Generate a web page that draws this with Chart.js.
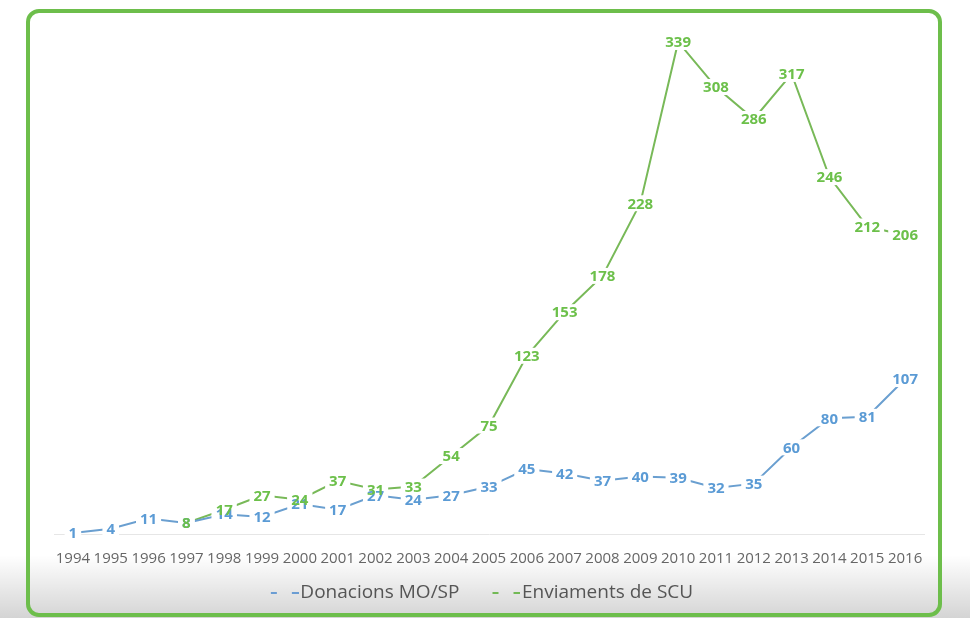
<!DOCTYPE html>
<html>
  <head>
    <meta charset="UTF-8" />
    <title>Donacions i enviaments</title>
    <script src="https://cdn.jsdelivr.net/npm/chart.js@4/dist/chart.umd.min.js"></script>
    <style>
      html, body { margin:0; padding:0; width:970px; height:618px; overflow:hidden; background:#fff; }
      #shade { position:absolute; left:0; top:555px; width:970px; height:63px;
        background:linear-gradient(to bottom, rgba(0,0,0,0), rgba(0,0,0,0.17)); }
      #frame { position:absolute; left:26px; top:9px; width:908px; height:600px;
        border:4px solid #6dbe4b; border-radius:13px; }
      #chartBox { position:absolute; left:0; top:0; width:970px; height:618px; overflow:hidden; }
    </style>
  </head>
  <body>
    <div id="shade"></div>
    <div id="frame"></div>
    <div id="chartBox"><canvas id="chart" width="970" height="618"></canvas></div>

    <script>
      const years = ['1994','1995','1996','1997','1998','1999','2000','2001','2002','2003','2004',
        '2005','2006','2007','2008','2009','2010','2011','2012','2013','2014','2015','2016'];
      const donacions = [1,4,11,8,14,12,21,17,27,24,27,33,45,42,37,40,39,32,35,60,80,81,107];
      const enviaments = [null,null,null,8,17,27,24,37,31,33,54,75,123,153,178,228,339,308,286,317,246,212,206];

      const blue = '#5b9bd5';
      const green = '#6cc04a';

      // legend symbol "- -", a bit wider than its box so the 2nd dash touches the text
      function dashImage(color) {
        const c = document.createElement('canvas');
        c.width = 52; c.height = 4;
        const g = c.getContext('2d');
        g.fillStyle = color;
        g.fillRect(24, 1, 6, 2);
        g.fillRect(45, 1, 7, 2);
        return c;
      }

      // value labels with a white box behind, boxes first then the texts
      const valueLabels = {
        id: 'valueLabels',
        afterDatasetsDraw(chart) {
          const ctx = chart.ctx;
          ctx.save();
          ctx.font = 'bold 15px "Open Sans"';
          ctx.textAlign = 'center';
          ctx.textBaseline = 'middle';
          const items = [];
          chart.data.datasets.forEach((ds, i) => {
            const meta = chart.getDatasetMeta(i);
            meta.data.forEach((pt, j) => {
              const v = ds.data[j];
              if (v === null) return;
              items.push({ x: pt.x, y: pt.y, text: String(v), color: ds.labelColor });
            });
          });
          ctx.fillStyle = '#fff';
          items.forEach(it => {
            const w = ctx.measureText(it.text).width;
            ctx.fillRect(it.x - w / 2 - 4, it.y - 8, w + 8, 16);
          });
          items.forEach(it => {
            ctx.fillStyle = it.color;
            ctx.fillText(it.text, it.x, it.y + 1);
          });
          ctx.restore();
        }
      };

      // legend row sits a little left of the plot centre
      const legendShift = {
        id: 'legendShift',
        afterLayout(chart) {
          chart.legend.left -= 15;
          chart.legend.right -= 15;
        }
      };

      new Chart(document.getElementById('chart'), {
        type: 'line',
        data: {
          labels: years,
          datasets: [
            { label: 'Donacions MO/SP', data: donacions, borderColor: '#6a9fd0', backgroundColor: blue,
              labelColor: blue, legendColor: '#6b9dd3', borderWidth: 2, pointRadius: 0, tension: 0 },
            { label: 'Enviaments de SCU', data: enviaments, borderColor: '#78b958', backgroundColor: green,
              labelColor: green, legendColor: '#72b955', borderWidth: 2, pointRadius: 0, tension: 0 }
          ]
        },
        options: {
          responsive: false,
          animation: false,
          devicePixelRatio: 1,
          layout: { padding: { left: 54, right: 46, top: 26, bottom: 5.5 } },
          scales: {
            x: {
              offset: true,
              grid: { drawOnChartArea: false, drawTicks: false },
              border: { display: true, color: '#e6e6e6', width: 1 },
              ticks: { color: '#666', font: { family: '"Open Sans"', size: 15 }, padding: 15,
                autoSkip: false, maxRotation: 0 },
              afterFit: s => { s.height = 32; }
            },
            y: { display: false, min: 0, max: 350 }
          },
          plugins: {
            tooltip: { enabled: false },
            legend: {
              position: 'bottom',
              labels: {
                color: '#555',
                font: { family: '"Open Sans"', size: 19 },
                padding: 17,
                usePointStyle: true,
                pointStyleWidth: 36,
                generateLabels: chart => chart.data.datasets.map((ds, i) => ({
                  text: ds.label,
                  strokeStyle: ds.legendColor,
                  fillStyle: ds.legendColor,
                  lineWidth: 0,
                  pointStyle: dashImage(ds.legendColor),
                  fontColor: '#555',
                  datasetIndex: i
                }))
              }
            }
          }
        },
        plugins: [valueLabels, legendShift]
      });
    </script>
  </body>
</html>
